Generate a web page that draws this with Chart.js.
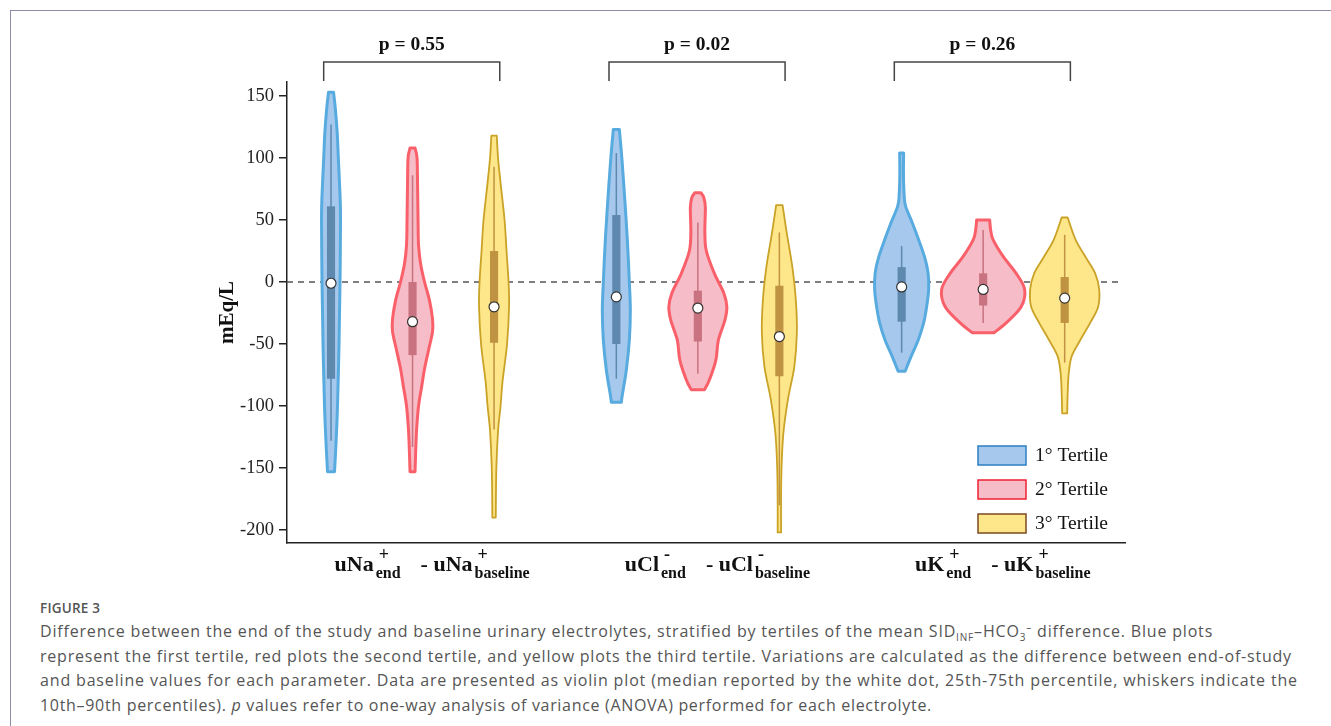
<!DOCTYPE html>
<html>
<head>
<meta charset="utf-8">
<script src="https://cdn.jsdelivr.net/npm/chart.js@4.4.1/dist/chart.umd.min.js"></script>
<style>
  html, body { margin: 0; padding: 0; background: #fff; }
  body { width: 1331px; height: 726px; position: relative; overflow: hidden; }
  #frame { position: absolute; left: 10px; top: 10px; right: 0; bottom: 0;
    border-left: 1.5px solid #8d8ea3; border-top: 1.5px solid #8d8ea3; }
  #wrap { position: absolute; left: 0; top: 0; width: 1331px; height: 590px; }
  #caption { position: absolute; left: 40px; top: 597px; font-family: "Open Sans", sans-serif; color: #555; }
  .fig { font-size: 13.5px; font-weight: 600; line-height: 22px; letter-spacing: 0.2px; }
  .line { font-size: 16px; line-height: 24.7px; white-space: nowrap; }
  .line sub, .line sup { font-size: 10px; line-height: 0; }
</style>
</head>
<body>
<div id="frame"></div>
<div id="wrap"><canvas id="violinChart" width="1331" height="590"></canvas></div>
<div id="caption">
  <div class="fig">FIGURE 3</div>
  <div class="line" data-w="1173">Difference between the end of the study and baseline urinary electrolytes, stratified by tertiles of the mean SID<sub>INF</sub>–HCO<sub>3</sub><sup>–</sup> difference. Blue plots</div>
  <div class="line" data-w="1252">represent the first tertile, red plots the second tertile, and yellow plots the third tertile. Variations are calculated as the difference between end-of-study</div>
  <div class="line" data-w="1258">and baseline values for each parameter. Data are presented as violin plot (median reported by the white dot, 25th-75th percentile, whiskers indicate the</div>
  <div class="line" data-w="892">10th–90th percentiles). <i>p</i> values refer to one-way analysis of variance (ANOVA) performed for each electrolyte.</div>
</div>
<script>
const groupNames = ["uNa", "uCl", "uK"];
const groupCharge = ["+", "-", "+"];
const tertileNames = ["1° Tertile", "2° Tertile", "3° Tertile"];
const pValueLabels = ["p = 0.55", "p = 0.02", "p = 0.26"];
const yTicks = [-200, -150, -100, -50, 0, 50, 100, 150];

// rows = electrolyte, columns = tertile
const medians = [[-1, -32, -20], [-12, -21, -44], [-4, -6, -13]];
const q1 = [[-78, -59, -49], [-50, -48, -76], [-32, -19, -33]];
const q3 = [[61, 0, 25], [54, -7, -3], [12, 7, 4]];
const whiskLow = [[-128, -133, -119], [-78, -74, -180], [-57, -33, -65]];
const whiskHigh = [[127, 86, 93], [104, 48, 40], [29, 42, 38]];

// violin outlines: [value, density half-width]
const naViolins = [
  [[153, 2.5], [140, 4.3], [120, 6.2], [100, 7.3], [70, 9], [50, 9.5], [0, 9], [-50, 8], [-100, 6.5], [-130, 5], [-153, 3.5]],
  [[108, 2.5], [100, 4.5], [80, 5], [50, 5.5], [30, 6], [15, 8], [0, 12], [-15, 17], [-30, 20], [-40, 20], [-55, 16], [-70, 12], [-85, 9], [-100, 6], [-120, 4], [-140, 3], [-153, 2.5]],
  [[118, 2.7], [100, 4], [80, 6.5], [50, 10.5], [25, 12.5], [0, 14.5], [-20, 15], [-50, 13], [-80, 8.5], [-100, 6.5], [-120, 4], [-150, 2.3], [-190, 1.7]]
];
const clViolins = [
  [[123, 3], [98, 5.7], [66, 8.5], [34, 11], [0, 13], [-23, 14], [-47, 13], [-71, 10], [-91, 6], [-97, 5]],
  [[72, 3], [68, 6], [60, 7.5], [40, 7], [25, 8.5], [7, 16.5], [-9, 26], [-20, 29], [-31, 27], [-47, 20.5], [-63, 18], [-79, 11.5], [-87, 6.5]],
  [[62, 3.2], [39, 7.5], [12, 13], [-15, 16.5], [-41, 17.5], [-68, 15], [-95, 8.5], [-122, 4], [-149, 2.2], [-176, 1.7], [-202, 1.7]]
];
const kViolins = [
  [[104, 2], [88, 1.8], [70, 2.5], [61, 4], [47, 11], [34, 17], [20, 23], [7, 26.5], [-6, 27], [-20, 25], [-33, 22], [-47, 16.5], [-60, 9.5], [-72, 3.5]],
  [[50, 6.5], [42, 7.5], [34, 10], [20, 20.5], [7, 33], [-6, 41.5], [-20, 38], [-33, 23], [-41, 10.7]],
  [[52, 3], [34, 11], [20, 21], [7, 30.5], [-6, 34.5], [-20, 33.5], [-33, 25.5], [-47, 15.5], [-60, 7], [-74, 4], [-90, 3], [-106, 2.5]]
];
const violins = [naViolins, clViolins, kViolins];

const fillColors = ["#a6c8ed", "#f6bdc8", "#fee68b"];
const strokeColors = ["#58abdf", "#f9606a", "#c9a226"];
const strokeWidths = [3, 3, 1.8];
const boxColors = ["#5e88ae", "#c8737f", "#bf9341"];
const legendBorders = ["#2b7fc2", "#ee2030", "#7b4a20"];

const GROUP_STEP = 3.5;
const DENS = 1 / 81.5; // density unit -> x units
const BOX_HALF = 0.05;
const SERIF = "'Liberation Serif', 'Times New Roman', serif";

function slotX(g, t) {
  return g * GROUP_STEP + t;
}

function smoothThrough(ctx, pts) {
  for (let i = 0; i < pts.length - 1; i++) {
    const p0 = pts[i - 1] || pts[i];
    const p1 = pts[i];
    const p2 = pts[i + 1];
    const p3 = pts[i + 2] || pts[i + 1];
    ctx.bezierCurveTo(
      p1[0] + (p2[0] - p0[0]) / 6, p1[1] + (p2[1] - p0[1]) / 6,
      p2[0] - (p3[0] - p1[0]) / 6, p2[1] - (p3[1] - p1[1]) / 6,
      p2[0], p2[1]
    );
  }
}

const violinPlugin = {
  id: "violins",
  beforeDatasetsDraw(chart) {
    const { ctx, chartArea, scales: { x, y } } = chart;
    ctx.save();
    // dashed zero line
    ctx.strokeStyle = "#555";
    ctx.lineWidth = 1.6;
    ctx.setLineDash([6, 5]);
    ctx.beginPath();
    ctx.moveTo(chartArea.left, y.getPixelForValue(0));
    ctx.lineTo(chartArea.right - 3, y.getPixelForValue(0));
    ctx.stroke();
    ctx.setLineDash([]);

    groupNames.forEach((g, gi) => {
      tertileNames.forEach((t, ti) => {
        const cx = slotX(gi, ti);
        const prof = violins[gi][ti];
        const right = prof.map(([v, w]) => [x.getPixelForValue(cx + w * DENS), y.getPixelForValue(v)]);
        const left = prof.map(([v, w]) => [x.getPixelForValue(cx - w * DENS), y.getPixelForValue(v)]).reverse();
        ctx.beginPath();
        ctx.moveTo(left[left.length - 1][0], left[left.length - 1][1]);
        ctx.lineTo(right[0][0], right[0][1]);
        smoothThrough(ctx, right);
        ctx.lineTo(left[0][0], left[0][1]);
        smoothThrough(ctx, left);
        ctx.closePath();
        ctx.fillStyle = fillColors[ti];
        ctx.fill();
        ctx.lineJoin = "round";
        ctx.lineWidth = strokeWidths[ti];
        ctx.strokeStyle = strokeColors[ti];
        ctx.stroke();

        // whisker
        const px = x.getPixelForValue(cx);
        ctx.strokeStyle = boxColors[ti];
        ctx.lineWidth = 1.5;
        ctx.beginPath();
        ctx.moveTo(px, y.getPixelForValue(whiskHigh[gi][ti]));
        ctx.lineTo(px, y.getPixelForValue(whiskLow[gi][ti]));
        ctx.stroke();

        // box
        const bx0 = x.getPixelForValue(cx - BOX_HALF);
        const bx1 = x.getPixelForValue(cx + BOX_HALF);
        const by0 = y.getPixelForValue(q3[gi][ti]);
        const by1 = y.getPixelForValue(q1[gi][ti]);
        ctx.fillStyle = boxColors[ti];
        ctx.fillRect(bx0, by0, bx1 - bx0, by1 - by0);
      });
    });
    ctx.restore();
  },
  afterDraw(chart) {
    const { ctx, chartArea, scales: { x } } = chart;
    ctx.save();
    // brackets with p values
    groupNames.forEach((g, gi) => {
      const x0 = x.getPixelForValue(slotX(gi, 0) - 0.09);
      const x1 = x.getPixelForValue(slotX(gi, 2) + 0.07);
      const top = chartArea.top - 20;
      ctx.strokeStyle = "#444";
      ctx.lineWidth = 1.5;
      ctx.beginPath();
      ctx.moveTo(x0, chartArea.top - 1);
      ctx.lineTo(x0, top);
      ctx.lineTo(x1, top);
      ctx.lineTo(x1, chartArea.top - 1);
      ctx.stroke();
      ctx.fillStyle = "#111";
      ctx.font = "bold 19.5px " + SERIF;
      ctx.textAlign = "center";
      ctx.textBaseline = "middle";
      ctx.fillText(pValueLabels[gi], (x0 + x1) / 2, chartArea.top - 37);
    });

    // category labels with super/subscripts
    const mainFont = "bold 22px " + SERIF;
    const supFont = "bold 18px " + SERIF;
    const subFont = "bold 16px " + SERIF;
    const baseY = chartArea.bottom + 28;
    groupNames.forEach((g, gi) => {
      const parts = [
        { main: g, sub: "end" },
        { main: "- " + g, sub: "baseline" }
      ];
      const widths = parts.map((p) => {
        ctx.font = mainFont;
        const wm = ctx.measureText(p.main).width;
        ctx.font = subFont;
        const ws = ctx.measureText(p.sub).width;
        return { wm, ws };
      });
      const gap = 20;
      const total = widths.reduce((s, w) => s + w.wm + 2 + w.ws, 0) + gap;
      let cur = x.getPixelForValue(slotX(gi, 1) + 0.24) - total / 2;
      ctx.fillStyle = "#111";
      ctx.textAlign = "left";
      ctx.textBaseline = "alphabetic";
      parts.forEach((p, pi) => {
        ctx.font = mainFont;
        ctx.fillText(p.main, cur, baseY);
        cur += widths[pi].wm + 2;
        ctx.font = supFont;
        ctx.fillText(groupCharge[gi], cur + 3, baseY - 11);
        ctx.font = subFont;
        ctx.fillText(p.sub, cur, baseY + 7);
        cur += widths[pi].ws + gap;
      });
    });

    // legend
    tertileNames.forEach((name, ti) => {
      const bx = chartArea.right - 147;
      const by = chartArea.bottom - 97 + ti * 34;
      ctx.fillStyle = fillColors[ti];
      ctx.fillRect(bx, by, 48, 19);
      ctx.strokeStyle = legendBorders[ti];
      ctx.lineWidth = 1.5;
      ctx.strokeRect(bx, by, 48, 19);
      ctx.fillStyle = "#111";
      ctx.font = "19.5px " + SERIF;
      ctx.textAlign = "left";
      ctx.textBaseline = "middle";
      ctx.fillText(name, bx + 57, by + 10);
    });
    ctx.restore();
  }
};

const medianPoints = [];
groupNames.forEach((g, gi) => {
  tertileNames.forEach((t, ti) => {
    medianPoints.push({ x: slotX(gi, ti), y: medians[gi][ti] });
  });
});

const ctx = document.getElementById("violinChart").getContext("2d");
new Chart(ctx, {
  type: "scatter",
  data: {
    datasets: [
      {
        label: "Median",
        data: medianPoints,
        pointRadius: 5,
        pointBackgroundColor: "#ffffff",
        pointBorderColor: "#333",
        pointBorderWidth: 1.2,
      },
    ],
  },
  options: {
    responsive: false,
    animation: false,
    devicePixelRatio: 1,
    events: [],
    layout: { padding: { left: 211, top: 82, right: 206, bottom: 0 } },
    plugins: {
      legend: { display: false },
      tooltip: { enabled: false },
    },
    scales: {
      x: {
        type: "linear",
        min: -0.54,
        max: 9.74,
        grid: { display: false },
        ticks: { display: false },
        border: { display: true, color: "#222", width: 1.5 },
        afterFit: (scale) => { scale.height = 47; },
      },
      y: {
        type: "linear",
        min: -210.5,
        max: 161.3,
        afterBuildTicks: (scale) => { scale.ticks = yTicks.map((v) => ({ value: v })); },
        ticks: { color: "#222", padding: 5, font: { family: SERIF, size: 18.5 } },
        grid: { drawOnChartArea: false, drawTicks: true, tickLength: 8, color: "#222", lineWidth: 1.5 },
        border: { display: true, color: "#222", width: 1.5 },
        title: { display: true, text: "mEq/L", color: "#111", font: { family: SERIF, size: 21, weight: "bold" } },
        afterFit: (scale) => { scale.width = 76; },
      },
    },
  },
  plugins: [violinPlugin],
});

// stretch caption lines to the reference widths
document.querySelectorAll("#caption .line").forEach((el) => {
  el.style.display = "inline-block";
  const target = parseFloat(el.dataset.w);
  const w = el.getBoundingClientRect().width;
  const n = el.textContent.length;
  el.style.letterSpacing = ((target - w) / n).toFixed(3) + "px";
  el.style.display = "block";
});
</script>
</body>
</html>
